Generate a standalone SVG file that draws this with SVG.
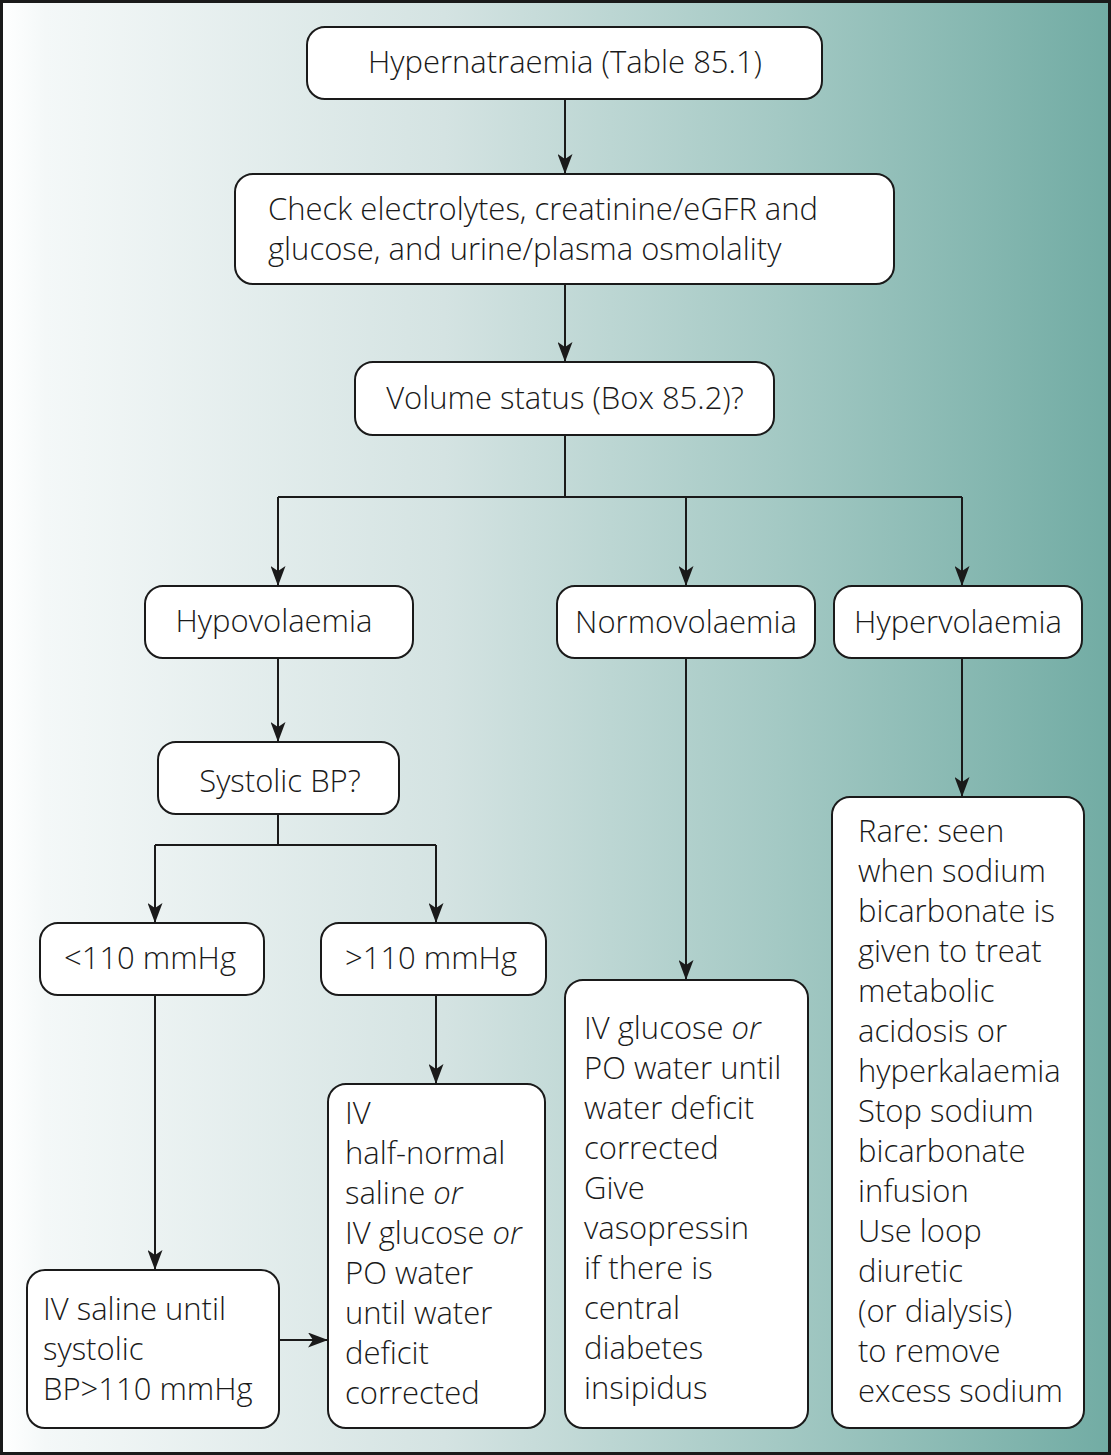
<svg xmlns="http://www.w3.org/2000/svg" width="1111" height="1455" viewBox="0 0 1111 1455">
<defs>
<linearGradient id="bg" x1="0" y1="0" x2="1" y2="0">
<stop offset="0" stop-color="#ffffff"/>
<stop offset="0.04" stop-color="#f4f8f8"/>
<stop offset="0.4" stop-color="#d4e3e2"/>
<stop offset="0.7" stop-color="#a4c9c4"/>
<stop offset="1" stop-color="#72aca4"/>
</linearGradient>
<marker id="arr" viewBox="0 0 20 15" refX="20" refY="7.5" markerWidth="20" markerHeight="15" markerUnits="userSpaceOnUse" orient="auto">
<path d="M0,0 L20,7.5 L0,15 L5,7.5 Z" fill="#1a1a1a"/>
</marker>
</defs>
<style>
.box{fill:#ffffff;stroke:#1a1a1a;stroke-width:2}
.t{font-family:"Open Sans","Noto Sans",sans-serif;font-size:31px;font-weight:300;fill:#1a1a1a}
.c{text-anchor:middle}
.ln{fill:none;stroke:#1a1a1a;stroke-width:2}
.i{font-style:italic}
</style>
<rect x="1.5" y="1.5" width="1108" height="1452" fill="url(#bg)" stroke="#1a1a1a" stroke-width="3"/>
<g id="connectors">
<line class="ln" x1="565" y1="99" x2="565" y2="174" marker-end="url(#arr)"/>
<line class="ln" x1="565" y1="284" x2="565" y2="362" marker-end="url(#arr)"/>
<polyline class="ln" points="565,435 565,497"/>
<polyline class="ln" points="278,497 962,497"/>
<line class="ln" x1="278" y1="497" x2="278" y2="586" marker-end="url(#arr)"/>
<line class="ln" x1="686" y1="497" x2="686" y2="586" marker-end="url(#arr)"/>
<line class="ln" x1="962" y1="497" x2="962" y2="586" marker-end="url(#arr)"/>
<line class="ln" x1="278" y1="658" x2="278" y2="742" marker-end="url(#arr)"/>
<polyline class="ln" points="278,814 278,845"/>
<polyline class="ln" points="155,845 436,845"/>
<line class="ln" x1="155" y1="845" x2="155" y2="923" marker-end="url(#arr)"/>
<line class="ln" x1="436" y1="845" x2="436" y2="923" marker-end="url(#arr)"/>
<line class="ln" x1="155" y1="995" x2="155" y2="1270" marker-end="url(#arr)"/>
<line class="ln" x1="436" y1="995" x2="436" y2="1084" marker-end="url(#arr)"/>
<line class="ln" x1="279" y1="1340" x2="328" y2="1340" marker-end="url(#arr)"/>
<line class="ln" x1="686" y1="658" x2="686" y2="980" marker-end="url(#arr)"/>
<line class="ln" x1="962" y1="658" x2="962" y2="797" marker-end="url(#arr)"/>
</g>
<g id="n1"><rect class="box" x="307" y="27" width="515" height="72" rx="18"/><text class="t c" x="565" y="73">Hypernatraemia (Table 85.1)</text></g>
<g id="n2"><rect class="box" x="235" y="174" width="659" height="110" rx="18"/><text class="t" x="268" y="220">Check electrolytes, creatinine/eGFR and</text><text class="t" x="268" y="260">glucose, and urine/plasma osmolality</text></g>
<g id="n3"><rect class="box" x="355" y="362" width="419" height="73" rx="18"/><text class="t c" x="565" y="409">Volume status (Box 85.2)?</text></g>
<g id="n4"><rect class="box" x="145" y="586" width="268" height="72" rx="18"/><text class="t c" x="274" y="632">Hypovolaemia</text></g>
<g id="n5"><rect class="box" x="557" y="586" width="258" height="72" rx="18"/><text class="t c" x="686" y="633">Normovolaemia</text></g>
<g id="n6"><rect class="box" x="834" y="586" width="248" height="72" rx="18"/><text class="t c" x="958" y="633">Hypervolaemia</text></g>
<g id="n7"><rect class="box" x="158" y="742" width="241" height="72" rx="18"/><text class="t c" x="280" y="792">Systolic BP?</text></g>
<g id="n8"><rect class="box" x="40" y="923" width="224" height="72" rx="18"/><text class="t c" x="150" y="969">&lt;110 mmHg</text></g>
<g id="n9"><rect class="box" x="321" y="923" width="225" height="72" rx="18"/><text class="t c" x="431" y="969">&gt;110 mmHg</text></g>
<g id="n10"><rect class="box" x="27" y="1270" width="252" height="158" rx="18"/>
<text class="t" x="43" y="1320">IV saline until</text>
<text class="t" x="43" y="1360">systolic</text>
<text class="t" x="43" y="1400">BP&gt;110 mmHg</text></g>
<g id="n11"><rect class="box" x="328" y="1084" width="217" height="344" rx="18"/>
<text class="t" x="345" y="1124">IV</text>
<text class="t" x="345" y="1164">half-normal</text>
<text class="t" x="345" y="1204">saline <tspan class="i">or</tspan></text>
<text class="t" x="345" y="1244">IV glucose <tspan class="i">or</tspan></text>
<text class="t" x="345" y="1284">PO water</text>
<text class="t" x="345" y="1324">until water</text>
<text class="t" x="345" y="1364">deficit</text>
<text class="t" x="345" y="1404">corrected</text></g>
<g id="n12"><rect class="box" x="565" y="980" width="243" height="448" rx="18"/>
<text class="t" x="584" y="1039">IV glucose <tspan class="i">or</tspan></text>
<text class="t" x="584" y="1079">PO water until</text>
<text class="t" x="584" y="1119">water deficit</text>
<text class="t" x="584" y="1159">corrected</text>
<text class="t" x="584" y="1199">Give</text>
<text class="t" x="584" y="1239">vasopressin</text>
<text class="t" x="584" y="1279">if there is</text>
<text class="t" x="584" y="1319">central</text>
<text class="t" x="584" y="1359">diabetes</text>
<text class="t" x="584" y="1399">insipidus</text></g>
<g id="n13"><rect class="box" x="832" y="797" width="252" height="631" rx="18"/>
<text class="t" x="858" y="842">Rare: seen</text>
<text class="t" x="858" y="882">when sodium</text>
<text class="t" x="858" y="922">bicarbonate is</text>
<text class="t" x="858" y="962">given to treat</text>
<text class="t" x="858" y="1002">metabolic</text>
<text class="t" x="858" y="1042">acidosis or</text>
<text class="t" x="858" y="1082">hyperkalaemia</text>
<text class="t" x="858" y="1122">Stop sodium</text>
<text class="t" x="858" y="1162">bicarbonate</text>
<text class="t" x="858" y="1202">infusion</text>
<text class="t" x="858" y="1242">Use loop</text>
<text class="t" x="858" y="1282">diuretic</text>
<text class="t" x="858" y="1322">(or dialysis)</text>
<text class="t" x="858" y="1362">to remove</text>
<text class="t" x="858" y="1402">excess sodium</text></g>
</svg>
